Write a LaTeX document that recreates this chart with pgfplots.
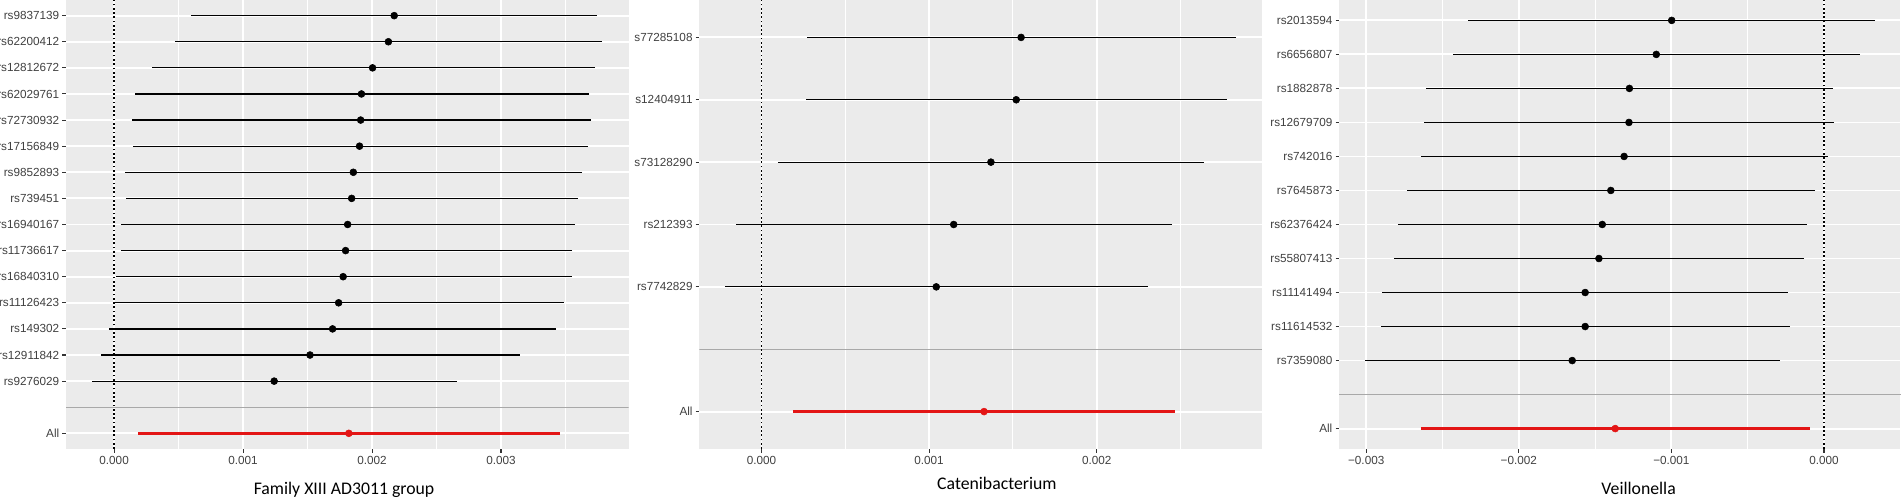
\documentclass[border=0pt]{standalone}
\usepackage{fontspec}
\setmainfont{Liberation Sans}
\newfontfamily\calibri{Carlito}
\usepackage{pgfplots}
\usepackage{pgfplotstable}
\pgfplotsset{compat=1.18}

\definecolor{panelbg}{HTML}{EBEBEB}
\definecolor{txtgray}{HTML}{404040}
\definecolor{tickgray}{HTML}{333333}
\definecolor{sepgray}{HTML}{A8A8A8}
\definecolor{allred}{HTML}{E31515}

% y = row position, b = estimate, lo/hi = interval
\pgfplotstableread{
y  b         lo         hi
16 0.002172  0.000598   0.003748
15 0.002127  0.000475   0.003786
14 0.002004  0.000292   0.003727
13 0.001918  0.000165   0.003682
12 0.001912  0.000137   0.003695
11 0.001903  0.000146   0.003672
10 0.001855  0.000083   0.003628
9  0.001842  0.000089   0.003599
8  0.001811  0.000057   0.003571
7  0.001795  0.000051   0.003549
6  0.001776  0.000013   0.003549
5  0.001741  0.000003   0.003492
4  0.001694  -0.000038  0.003428
3  0.001519  -0.000104  0.003147
2  0.001241  -0.000171  0.002659
}\famxiii
\pgfplotstableread{
y  b         lo         hi
0  0.001820  0.000184   0.003460
}\famxiiiall

\pgfplotstableread{
y  b         lo         hi
6  0.001549  0.000273   0.002831
5  0.001520  0.000266   0.002777
4  0.001369  0.000100   0.002643
3  0.001147  -0.000151  0.002451
2  0.001043  -0.000217  0.002305
}\cateni
\pgfplotstableread{
y  b         lo         hi
0  0.001328  0.000190   0.002465
}\cateniall

\pgfplotstableread{
y  b          lo         hi
12 -0.000998  -0.002334  0.000335
11 -0.001099  -0.002433  0.000237
10 -0.001275  -0.002608  0.000059
9  -0.001278  -0.002622  0.000067
8  -0.001310  -0.002640  0.000029
7  -0.001397  -0.002734  -0.000059
6  -0.001453  -0.002795  -0.000112
5  -0.001475  -0.002819  -0.000130
4  -0.001565  -0.002896  -0.000234
3  -0.001565  -0.002904  -0.000224
2  -0.001650  -0.003008  -0.000290
}\veill
\pgfplotstableread{
y  b          lo         hi
0  -0.001368  -0.002643  -0.0000905
}\veillall

\pgfplotsset{
  forest/.style={
    scale only axis,
    height=336.75pt,
    ymin=-0.6,
    anchor=south west,
    axis background/.style={fill=panelbg},
    axis line style={draw=none},
    tick pos=left,
    tick align=outside,
    major tick length=2.75pt,
    minor tick length=0pt,
    tick style={tickgray, line width=0.8pt},
    xmajorgrids, xminorgrids, ymajorgrids,
    major grid style={white, line width=1.4pt},
    minor grid style={white, line width=0.7pt},
    ticklabel style={font=\fontsize{8.8}{10}\selectfont, text=txtgray},
    xticklabel style={inner sep=0pt, anchor=north, yshift=-2.8pt},
    yticklabel style={inner sep=0pt, anchor=east, xshift=-2.2pt},
    scaled x ticks=false,
    xlabel style={font=\calibri\fontsize{13.3}{15}\selectfont, text=black},
  },
  zeroline/.style={black, line width=1.4pt, dash pattern=on 1.3pt off 1.9pt},
  snp/.style={only marks, mark=*, mark size=2.6pt, black,
    error bars/.cd, x dir=both, x explicit, error mark=none,
    error bar style={black, line width=0.9pt}},
  allrow/.style={only marks, mark=*, mark size=2.6pt, allred,
    error bars/.cd, x dir=both, x explicit, error mark=none,
    error bar style={allred, line width=2.4pt}},
}

\begin{document}
\begin{tikzpicture}
\path[use as bounding box] (0,0) rectangle (1425.75pt,373.5pt);

% ---- Family XIII AD3011 group
\begin{axis}[forest,
  at={(49.6pt,36.75pt)}, width=421.9pt,
  ymax=16.6,
  xmin=-0.000372, xmax=0.003990,
  xtick={0,0.001,0.002,0.003},
  xticklabels={0.000,0.001,0.002,0.003},
  minor xtick={0.0005,0.0015,0.0025,0.0035},
  ytick={0,2,3,4,5,6,7,8,9,10,11,12,13,14,15,16},
  yticklabels={All,rs9276029,rs12911842,rs149302,rs11126423,rs16840310,rs11736617,rs16940167,rs739451,rs9852893,rs17156849,rs72730932,rs62029761,rs12812672,rs62200412,rs9837139},
  xlabel={Family XIII AD3011 group},
  xlabel style={at={(axis description cs:0.494,-0.1020)}, anchor=base},
]
\addplot[sepgray, line width=1pt] coordinates {(-0.000372,1) (0.003990,1)};
\addplot[zeroline] coordinates {(0,-0.6) (0,16.6)};
\addplot[snp] table[x=b, y=y, x error plus expr=\thisrow{hi}-\thisrow{b}, x error minus expr=\thisrow{b}-\thisrow{lo}] {\famxiii};
\addplot[allrow] table[x=b, y=y, x error plus expr=\thisrow{hi}-\thisrow{b}, x error minus expr=\thisrow{b}-\thisrow{lo}] {\famxiiiall};
\end{axis}

% ---- Catenibacterium
\begin{axis}[forest,
  at={(524.55pt,36.75pt)}, width=421.8pt,
  ymax=6.6,
  xmin=-0.000370, xmax=0.002985,
  xtick={0,0.001,0.002},
  xticklabels={0.000,0.001,0.002},
  minor xtick={0.0005,0.0015,0.0025},
  ytick={0,2,3,4,5,6},
  yticklabels={All,rs7742829,rs212393,s73128290,s12404911,s77285108},
  xlabel={Catenibacterium},
  xlabel style={at={(axis description cs:0.529,-0.0913)}, anchor=base},
]
\addplot[sepgray, line width=1pt] coordinates {(-0.000370,1) (0.002985,1)};
\addplot[zeroline] coordinates {(0,-0.6) (0,6.6)};
\addplot[snp] table[x=b, y=y, x error plus expr=\thisrow{hi}-\thisrow{b}, x error minus expr=\thisrow{b}-\thisrow{lo}] {\cateni};
\addplot[allrow] table[x=b, y=y, x error plus expr=\thisrow{hi}-\thisrow{b}, x error minus expr=\thisrow{b}-\thisrow{lo}] {\cateniall};
\end{axis}

% ---- Veillonella
\begin{axis}[forest,
  at={(1004.4pt,36.75pt)}, width=421.35pt,
  ymax=12.6,
  xmin=-0.003177, xmax=0.000505,
  xtick={-0.003,-0.002,-0.001,0},
  xticklabels={−0.003,−0.002,−0.001,0.000},
  minor xtick={-0.0025,-0.0015,-0.0005,0.0005},
  ytick={0,2,3,4,5,6,7,8,9,10,11,12},
  yticklabels={All,rs7359080,rs11614532,rs11141494,rs55807413,rs62376424,rs7645873,rs742016,rs12679709,rs1882878,rs6656807,rs2013594},
  xlabel={Veillonella},
  xlabel style={at={(axis description cs:0.533,-0.1020)}, anchor=base},
]
\addplot[sepgray, line width=1pt] coordinates {(-0.003177,1) (0.000505,1)};
\addplot[zeroline] coordinates {(0,-0.6) (0,12.6)};
\addplot[snp] table[x=b, y=y, x error plus expr=\thisrow{hi}-\thisrow{b}, x error minus expr=\thisrow{b}-\thisrow{lo}] {\veill};
\addplot[allrow] table[x=b, y=y, x error plus expr=\thisrow{hi}-\thisrow{b}, x error minus expr=\thisrow{b}-\thisrow{lo}] {\veillall};
\end{axis}
\end{tikzpicture}
\end{document}
